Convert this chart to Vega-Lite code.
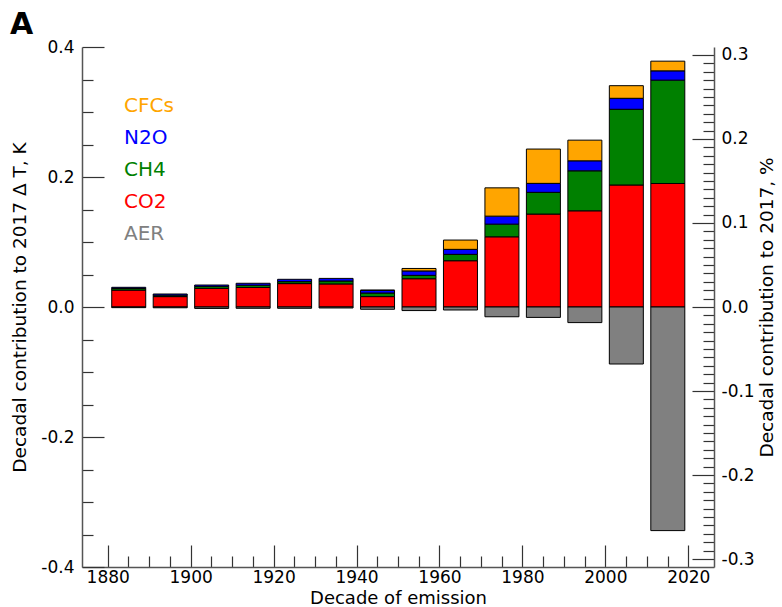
{
  "$schema": "https://vega.github.io/schema/vega-lite/v6.json",
  "width": 632,
  "height": 520,
  "autosize": {"type": "none"},
  "padding": {"left": 82, "top": 47, "right": 68, "bottom": 40},
  "background": "white",
  "config": {
    "font": "DejaVu Sans",
    "view": {"stroke": null},
    "axis": {
      "labelFontSize": 17,
      "titleFontSize": 18.5,
      "titleFontWeight": "normal",
      "labelColor": "black",
      "titleColor": "black",
      "domainColor": "#555555",
      "domainWidth": 1.5,
      "tickColor": "#333333",
      "tickWidth": 1.2,
      "grid": false,
      "labelOverlap": false,
      "labelBound": false,
      "labelFlush": false
    }
  },
  "title": {
    "text": "A",
    "anchor": "start",
    "frame": "group",
    "fontSize": 30,
    "fontWeight": "bold",
    "color": "black",
    "dx": -72,
    "dy": 38,
    "offset": 12,
    "baseline": "alphabetic"
  },
  "data": {
    "values": [
      {"decade": 1880, "gas": "CO2", "value": 0.026},
      {"decade": 1880, "gas": "CH4", "value": 0.0025},
      {"decade": 1880, "gas": "N2O", "value": 0.0018},
      {"decade": 1880, "gas": "AER", "value": -0.001},
      {"decade": 1890, "gas": "CO2", "value": 0.016},
      {"decade": 1890, "gas": "CH4", "value": 0.0022},
      {"decade": 1890, "gas": "N2O", "value": 0.0018},
      {"decade": 1890, "gas": "AER", "value": -0.0012},
      {"decade": 1900, "gas": "CO2", "value": 0.0287},
      {"decade": 1900, "gas": "CH4", "value": 0.003},
      {"decade": 1900, "gas": "N2O", "value": 0.0021},
      {"decade": 1900, "gas": "AER", "value": -0.0022},
      {"decade": 1910, "gas": "CO2", "value": 0.030},
      {"decade": 1910, "gas": "CH4", "value": 0.0035},
      {"decade": 1910, "gas": "N2O", "value": 0.003},
      {"decade": 1910, "gas": "AER", "value": -0.002},
      {"decade": 1920, "gas": "CO2", "value": 0.036},
      {"decade": 1920, "gas": "CH4", "value": 0.003},
      {"decade": 1920, "gas": "N2O", "value": 0.0036},
      {"decade": 1920, "gas": "AER", "value": -0.002},
      {"decade": 1930, "gas": "CO2", "value": 0.0355},
      {"decade": 1930, "gas": "CH4", "value": 0.0045},
      {"decade": 1930, "gas": "N2O", "value": 0.004},
      {"decade": 1930, "gas": "AER", "value": -0.0015},
      {"decade": 1940, "gas": "CO2", "value": 0.016},
      {"decade": 1940, "gas": "CH4", "value": 0.0055},
      {"decade": 1940, "gas": "N2O", "value": 0.004},
      {"decade": 1940, "gas": "CFCs", "value": 0.0006},
      {"decade": 1940, "gas": "AER", "value": -0.0035},
      {"decade": 1950, "gas": "CO2", "value": 0.0435},
      {"decade": 1950, "gas": "CH4", "value": 0.0052},
      {"decade": 1950, "gas": "N2O", "value": 0.0068},
      {"decade": 1950, "gas": "CFCs", "value": 0.0038},
      {"decade": 1950, "gas": "AER", "value": -0.0055},
      {"decade": 1960, "gas": "CO2", "value": 0.0712},
      {"decade": 1960, "gas": "CH4", "value": 0.0098},
      {"decade": 1960, "gas": "N2O", "value": 0.0077},
      {"decade": 1960, "gas": "CFCs", "value": 0.0143},
      {"decade": 1960, "gas": "AER", "value": -0.0046},
      {"decade": 1970, "gas": "CO2", "value": 0.108},
      {"decade": 1970, "gas": "CH4", "value": 0.0195},
      {"decade": 1970, "gas": "N2O", "value": 0.0123},
      {"decade": 1970, "gas": "CFCs", "value": 0.0435},
      {"decade": 1970, "gas": "AER", "value": -0.015},
      {"decade": 1980, "gas": "CO2", "value": 0.143},
      {"decade": 1980, "gas": "CH4", "value": 0.0334},
      {"decade": 1980, "gas": "N2O", "value": 0.0138},
      {"decade": 1980, "gas": "CFCs", "value": 0.0528},
      {"decade": 1980, "gas": "AER", "value": -0.016},
      {"decade": 1990, "gas": "CO2", "value": 0.148},
      {"decade": 1990, "gas": "CH4", "value": 0.0615},
      {"decade": 1990, "gas": "N2O", "value": 0.0154},
      {"decade": 1990, "gas": "CFCs", "value": 0.0318},
      {"decade": 1990, "gas": "AER", "value": -0.024},
      {"decade": 2000, "gas": "CO2", "value": 0.1877},
      {"decade": 2000, "gas": "CH4", "value": 0.1165},
      {"decade": 2000, "gas": "N2O", "value": 0.0169},
      {"decade": 2000, "gas": "CFCs", "value": 0.0194},
      {"decade": 2000, "gas": "AER", "value": -0.0877},
      {"decade": 2010, "gas": "CO2", "value": 0.190},
      {"decade": 2010, "gas": "CH4", "value": 0.159},
      {"decade": 2010, "gas": "N2O", "value": 0.0143},
      {"decade": 2010, "gas": "CFCs", "value": 0.0149},
      {"decade": 2010, "gas": "AER", "value": -0.344}
    ]
  },
  "transform": [
    {"calculate": "indexof(['CO2','CH4','N2O','CFCs','AER'], datum.gas)", "as": "stackOrder"}
  ],
  "layer": [
    {
      "mark": {"type": "bar", "size": 34, "xOffset": 21, "stroke": "black", "strokeWidth": 1},
      "encoding": {
        "x": {
          "field": "decade",
          "type": "quantitative",
          "scale": {"domain": [1875, 2025], "nice": false, "zero": false},
          "axis": {
            "orient": "bottom",
            "values": [1880,1885,1890,1895,1900,1905,1910,1915,1920,1925,1930,1935,1940,1945,1950,1955,1960,1965,1970,1975,1980,1985,1990,1995,2000,2005,2010,2015,2020],
            "tickSize": {"condition": {"test": "datum.value % 20 === 0", "value": -22}, "value": -11},
            "labelExpr": "datum.value % 20 === 0 ? format(datum.value, 'd') : ''",
            "labelPadding": 24,
            "title": "Decade of emission",
            "titleFontSize": 18,
            "titlePadding": -7
          }
        },
        "y": {
          "field": "value",
          "type": "quantitative",
          "stack": "zero",
          "scale": {"domain": [-0.4, 0.4], "nice": false, "zero": false},
          "axis": {
            "orient": "left",
            "values": [-0.4,-0.35,-0.3,-0.25,-0.2,-0.15,-0.1,-0.05,0,0.05,0.1,0.15,0.2,0.25,0.3,0.35,0.4],
            "tickSize": {"condition": {"test": "abs(datum.value*5 - round(datum.value*5)) < 0.001", "value": -22}, "value": -11},
            "labelExpr": "abs(datum.value*5 - round(datum.value*5)) < 0.001 ? replace(format(datum.value, '.1f'), '\u2212', '-') : ''",
            "labelPadding": 30,
            "title": "Decadal contribution to 2017 Δ T, K",
            "titlePadding": 11
          }
        },
        "color": {
          "field": "gas",
          "type": "nominal",
          "scale": {
            "domain": ["CFCs", "N2O", "CH4", "CO2", "AER"],
            "range": ["#FFA500", "#0000FF", "#008000", "#FF0000", "#808080"]
          },
          "legend": {
            "title": null,
            "orient": "none",
            "legendX": 22,
            "legendY": 49,
            "padding": 0,
            "symbolSize": 0,
            "symbolStrokeWidth": 0,
            "symbolOpacity": 0,
            "labelOffset": 0,
            "labelFontSize": 20,
            "labelFont": "DejaVu Sans",
            "rowPadding": 12,
            "labelColor": {"expr": "scale('color', datum.value)"}
          }
        },
        "order": {"field": "stackOrder", "type": "quantitative"}
      }
    },
    {
      "mark": {"type": "point", "opacity": 0},
      "encoding": {
        "y": {
          "field": "value",
          "type": "quantitative",
          "scale": {"domain": [-0.30952, 0.30952], "nice": false, "zero": false},
          "axis": {
            "orient": "right",
            "values": [-0.3,-0.29,-0.28,-0.27,-0.26,-0.25,-0.24,-0.23,-0.22,-0.21,-0.2,-0.19,-0.18,-0.17,-0.16,-0.15,-0.14,-0.13,-0.12,-0.11,-0.1,-0.09,-0.08,-0.07,-0.06,-0.05,-0.04,-0.03,-0.02,-0.01,0,0.01,0.02,0.03,0.04,0.05,0.06,0.07,0.08,0.09,0.1,0.11,0.12,0.13,0.14,0.15,0.16,0.17,0.18,0.19,0.2,0.21,0.22,0.23,0.24,0.25,0.26,0.27,0.28,0.29,0.3],
            "tickSize": {"condition": {"test": "abs(datum.value*10 - round(datum.value*10)) < 0.001", "value": -22}, "value": -11},
            "labelPadding": 29,
            "labelExpr": "abs(datum.value*10 - round(datum.value*10)) < 0.001 ? replace(format(datum.value, '.1f'), '\u2212', '-') : ''",
            "title": "Decadal contribution to 2017, %",
            "titleAngle": 270,
            "titlePadding": 22
          }
        }
      }
    }
  ],
  "resolve": {"scale": {"y": "independent"}}
}
